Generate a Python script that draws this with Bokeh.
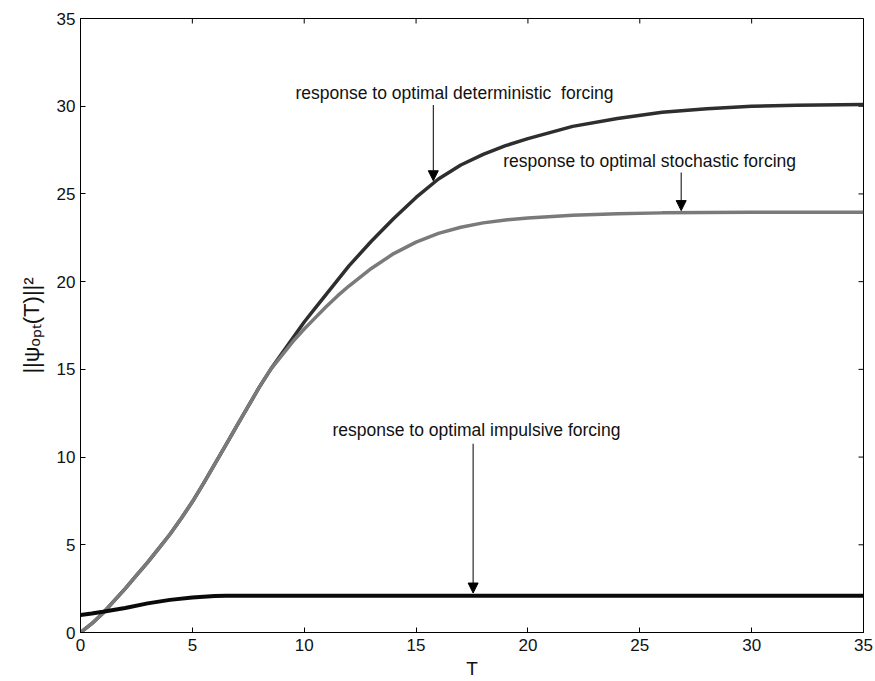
import math
from bokeh.plotting import figure
from bokeh.models import Range1d, LinearAxis, FixedTicker, Label, Arrow, NormalHead
from bokeh.embed import file_html
from bokeh.resources import INLINE

# Norm of the optimal response versus horizon T
T_det = [0, 0.5, 1, 1.5, 2, 2.5, 3, 3.5, 4, 4.5, 5, 5.5, 6, 6.5, 7, 7.5, 8, 8.5, 9, 9.5,
         10, 10.5, 11, 11.5, 12, 13, 14, 15, 16, 17, 18, 19, 20, 22, 24, 26, 28, 30, 32, 35]
deterministic = [0, 0.5, 1.1, 1.8, 2.5, 3.25, 4.0, 4.8, 5.6, 6.5, 7.45, 8.5, 9.6, 10.7,
                 11.8, 12.9, 14.0, 15.0, 15.9, 16.8, 17.7, 18.5, 19.3, 20.1, 20.9, 22.3,
                 23.6, 24.8, 25.85, 26.65, 27.25, 27.75, 28.15, 28.85, 29.3, 29.65, 29.85,
                 30.0, 30.05, 30.1]

T_sto = [0, 0.5, 1, 1.5, 2, 2.5, 3, 3.5, 4, 4.5, 5, 5.5, 6, 6.5, 7, 7.5, 8, 8.5, 9, 9.5,
         10, 10.5, 11, 11.5, 12, 13, 14, 15, 16, 17, 18, 19, 20, 22, 24, 26, 28, 30, 32, 35]
stochastic = [0, 0.5, 1.1, 1.8, 2.5, 3.25, 4.0, 4.8, 5.6, 6.5, 7.45, 8.5, 9.6, 10.7,
              11.8, 12.9, 14.0, 15.0, 15.8, 16.6, 17.3, 17.95, 18.6, 19.2, 19.75, 20.75,
              21.6, 22.25, 22.75, 23.1, 23.35, 23.52, 23.63, 23.78, 23.87, 23.92, 23.94,
              23.95, 23.95, 23.95]

T_imp = [0, 0.5, 1, 2, 3, 4, 5, 6, 6.5, 7, 10, 15, 20, 25, 30, 35]
impulsive = [1.0, 1.08, 1.18, 1.4, 1.66, 1.86, 2.0, 2.08, 2.1, 2.1, 2.1, 2.1, 2.1, 2.1,
             2.1, 2.1]

ticks = [0, 5, 10, 15, 20, 25, 30, 35]

FONT = "Liberation Sans"

p = figure(width=875, height=681, output_backend="svg", toolbar_location=None,
           x_range=Range1d(0, 35), y_range=Range1d(0, 35),
           min_border_left=80, min_border_right=12, min_border_top=18,
           min_border_bottom=45, x_axis_location=None, y_axis_location=None)
p.grid.visible = False
p.outline_line_color = "black"
p.outline_line_width = 1
p.background_fill_color = "white"
p.border_fill_color = "white"


def make_axis(label, label_size):
    ax = LinearAxis(ticker=FixedTicker(ticks=ticks))
    ax.major_tick_in = 5
    ax.major_tick_out = 0
    ax.minor_tick_line_color = None
    ax.axis_line_color = "black"
    ax.major_tick_line_color = "black"
    ax.major_label_text_font = FONT
    ax.major_label_text_color = "#111111"
    ax.major_label_text_font_size = "17px"
    ax.axis_label = label
    ax.axis_label_text_font = FONT
    ax.axis_label_text_font_style = "normal"
    ax.axis_label_text_font_size = label_size
    ax.axis_label_text_color = "#111111"
    return ax


xb = make_axis("T", "19px")
xb.major_label_standoff = 6
xb.axis_label_standoff = 4
yl = make_axis("||ψₒₚₜ(T)||²", "22px")
yl.major_label_standoff = 5
yl.axis_label_standoff = 10
p.add_layout(xb, "below")
p.add_layout(yl, "left")

# inward ticks along the top and right edges of the box (half of each dash is clipped)
p.scatter(x=ticks, y=[35] * len(ticks), marker="dash", size=10, angle=math.pi / 2,
          line_color="black", line_width=1)
p.scatter(x=[35] * len(ticks), y=ticks, marker="dash", size=10, angle=0,
          line_color="black", line_width=1)

p.line(T_det, deterministic, line_color="#2e2e2e", line_width=3.5)
p.line(T_sto, stochastic, line_color="#7a7a7a", line_width=3.5)
p.line(T_imp, impulsive, line_color="#0a0a0a", line_width=4)

notes = [
    ("response to optimal deterministic\u00a0 forcing", 16.72, 30.76),
    ("response to optimal stochastic forcing", 25.44, 26.9),
    ("response to optimal impulsive forcing", 17.70, 11.57),
]
for txt, x, y in notes:
    p.add_layout(Label(x=x, y=y, text=txt, text_font=FONT, text_font_size="17.5px",
                       text_align="center", text_baseline="middle", text_color="#111111"))

arrows = [
    (15.77, 30.07, 25.75),
    (26.85, 26.22, 24.05),
    (17.55, 10.76, 2.25),
]
for x, y0, y1 in arrows:
    p.add_layout(Arrow(x_start=x, y_start=y0, x_end=x, y_end=y1, line_width=1,
                       line_color="black",
                       end=NormalHead(size=10, fill_color="black", line_color="black",
                                      line_width=1)))

open("out.html", "w").write(file_html(p, INLINE))
